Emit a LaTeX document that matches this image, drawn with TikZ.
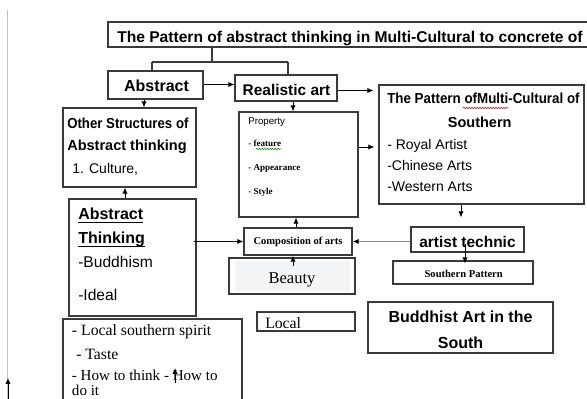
\documentclass[tikz,border=0pt]{standalone}
\usepackage{fontspec}
\setmainfont{Liberation Serif}
\setsansfont{Liberation Sans}
\usepackage{graphicx}
\usetikzlibrary{fit,calc,arrows.meta,decorations.pathmorphing}
\definecolor{linec}{HTML}{3A3A3A}
\definecolor{grayl}{HTML}{8C8C8C}
\definecolor{marginc}{HTML}{C4C4C4}
\definecolor{beautyfill}{HTML}{F3F4F6}
\newcommand\myfs[1]{\fontsize{#1}{#1}\selectfont}
\begin{document}
\begin{tikzpicture}[x=0.75pt,y=-0.75pt,
  box/.style={draw=linec,line width=0.9pt,inner sep=0pt},
  arr/.style={draw=black,line width=0.7pt,-{Latex[length=4.5pt,width=4pt]}},
  grayarr/.style={draw=grayl,line width=1.1pt,-{Latex[length=4.5pt,width=4pt,color=black]}},
  lnk/.style={draw=linec,line width=0.8pt},
  txt/.style={inner sep=0pt,anchor=base west},
  txc/.style={inner sep=0pt,anchor=base},
  hb/.style={font=\sffamily\bfseries\myfs{11.6pt}},
  hbs/.style={font=\sffamily\bfseries\myfs{10.9pt}},
  sr/.style={font=\sffamily\myfs{10.5pt}},
  srl/.style={font=\sffamily\myfs{11.7pt}},
  se/.style={font=\rmfamily\myfs{11.8pt}},
  seb/.style={font=\rmfamily\bfseries\myfs{7.9pt}},
  wavy/.style={line width=0.4pt,decorate,decoration={snake,amplitude=0.5pt,segment length=2pt}}
]
\useasboundingbox (0,0) rectangle (587,399);
\clip (0,0) rectangle (587,399);

% left margin line
\coordinate (m1) at (7.5,10);
\coordinate (m2) at (7.5,399);
\draw[marginc,line width=0.8pt] (m1) -- (m2);
\coordinate (m3) at (8,399);
\coordinate (m4) at (8,378);
\draw[arr] (m3) -- (m4);

% title
\node[box,fit={(108,22)(640,47)}] (title) {};
\node[txt,font=\sffamily\bfseries\myfs{11.7pt}] (titlet) at (117,43) {The Pattern of abstract thinking in Multi-Cultural to concrete of};

% boxes
\node[box,fit={(108,71)(203,99)}] (abs) {};
\node[txc,font=\sffamily\bfseries\myfs{12pt}] (abst) at (156.5,91.5) {Abstract};
\node[box,fit={(235,75)(337,101)}] (real) {};
\node[txc,hb] (realt) at (286.5,96) {Realistic art};
\node[box,fit={(63,108)(196,187)}] (oth) {};
\node[box,fit={(239,112)(358,217)}] (prop) {};
\node[box,fit={(379,85)(584,204)}] (pat) {};
\node[box,fit={(69,199)(196,316)}] (at) {};
\node[box,fit={(244,228)(352,255)}] (comp) {};
\node[txc,seb] (compt) at (298,245) {Composition of arts};
\fill[beautyfill] (235,261) rectangle (350,291);
\node[box,fit={(229,258)(355,294)}] (beauty) {};
\node[txc,font=\rmfamily\myfs{12.4pt}] (beautyt) at (292,283.3) {Beauty};
\node[box,fit={(257,312)(355,331)}] (local) {};
\node[txt,se] (localt) at (265,328.3) {Local};
\node[box,fit={(411,227)(524,252)}] (art) {};
\node[txc,hb] (artt) at (467.5,247.7) {artist technic};
\node[box,fit={(393,261)(533,284)}] (sp) {};
\node[txc,seb] (spt) at (463.7,277.3) {Southern Pattern};
\node[box,fit={(368,302)(553,353)}] (bud) {};
\node[txc,font=\sffamily\bfseries\myfs{12pt}] (bud1) at (460.5,322.7) {Buddhist Art in the};
\node[txc,font=\sffamily\bfseries\myfs{12pt}] (bud2) at (460.5,348.3) {South};
\node[box,fit={(63,319)(242,420)}] (lsp) {};

% Other structures text
\node[txt,hbs] (o1) at (67,128.3) {\scalebox{0.91}[1]{Other Structures of}};
\node[txt,hbs] (o2) at (67,150.7) {Abstract thinking};
\node[txt,sr] (o3) at (72,173.3) {1. Culture,};

% Abstract thinking text
\node[txt,font=\sffamily\bfseries\myfs{12pt}] (at1) at (78,219.3) {Abstract};
\node[txt,font=\sffamily\bfseries\myfs{12pt}] (at2) at (78,243.3) {Thinking};
\draw[black,line width=0.8pt] ($(at1.base west)+(0,2.8)$) -- ($(at1.base east)+(0,2.8)$);
\draw[black,line width=0.8pt] ($(at2.base west)+(0,2.8)$) -- ($(at2.base east)+(0,2.8)$);
\node[txt,srl] (at3) at (78,267.7) {-Buddhism};
\node[txt,srl] (at4) at (78,301) {-Ideal};

% Property text
\node[txt,font=\sffamily\myfs{7.3pt}] (p1) at (248,125) {Property};
\node[txt,font=\rmfamily\bfseries\myfs{6.8pt}] (p2) at (248,146.7) {- feature};
\draw[wavy,green!55!black] ($(p2.base west)+(8,2.2)$) -- ($(p2.base east)+(0,2.2)$);
\node[txt,font=\rmfamily\bfseries\myfs{6.8pt}] (p3) at (248,170.7) {- Appearance};
\node[txt,font=\rmfamily\bfseries\myfs{6.8pt}] (p4) at (248,195) {- Style};

% Pattern text
\node[txt,hbs] (pt1) at (387,104) {\scalebox{0.92}[1]{The Pattern ofMulti-Cultural of}};
\coordinate (w1) at (463,108);
\coordinate (w2) at (508,108);
\draw[wavy,red!80!black] (w1) -- (w2);
\node[txc,hbs] (pt2) at (479.7,127.3) {Southern};
\node[txt,sr] (pt3) at (387,150) {- Royal Artist};
\node[txt,sr] (pt4) at (387,170.7) {-Chinese Arts};
\node[txt,sr] (pt5) at (387,191.7) {-Western Arts};

% Local southern spirit text
\node[txt,se] (l1) at (71.7,335.7) {- Local southern spirit};
\node[txt,se] (l2) at (76,359.3) {- Taste};
\node[txt,align=left,font=\rmfamily\fontsize{11.3pt}{11.3pt}\selectfont] (l3) at (71.7,396) {- How to think - How to\\do it};

% connectors
\coordinate (tj) at (212,62);
\coordinate (tl) at (152,62);
\coordinate (tr) at (288,62);
\draw[lnk] (title.south -| tj) -- (tj);
\draw[lnk] (tl) -- (tr);
\draw[lnk] (tl) -- (tl |- abs.north);
\draw[lnk] (tr) -- (tr |- real.north);

\draw[arr] ($(abs.east)+(0,-0.5)$) coordinate (a0) -- (a0 -| real.west);
\draw[arr] ($(real.east)+(0,2.5)$) coordinate (r1) -- ($(r1 -| pat.west)+(-5,0)$);
\draw[arr] ($(abs.south)+(-11.5,0)$) coordinate (a1) -- (a1 |- oth.north);
\draw[arr] ($(at.north)+(-7.5,0)$) coordinate (a2) -- (a2 |- oth.south);
\draw[arr] ($(comp.west -| at.east)+(-3,0)$) -- (comp.west);
\draw[arr] ($(real.south)+(7,0)$) coordinate (a3) -- (a3 |- prop.north);
\draw[arr] ($(prop.east)+(0,-17.5)$) coordinate (a4) -- ($(a4 -| pat.west)+(-4,0)$);
\draw[arr] ($(comp.north)+(-2,0)$) coordinate (a5) -- (a5 |- prop.south);
\draw[arr] ($(beauty.center)+(1,-10)$) coordinate (a6) -- (a6 |- comp.south);
\draw[arr] ($(pat.south)+(-20.5,0)$) coordinate (a7) -- ($(a7 |- art.north)+(0,-9)$);
\draw[grayarr] (art.west |- comp.east) -- (comp.east);
\draw[arr] ($(art.center)+(-2.5,5)$) coordinate (a8) -- ($(a8 |- sp.north)+(0,3)$);
\coordinate (h1) at (175,383);
\coordinate (h2) at (175,368);
\draw[arr] (h1) -- (h2);
\end{tikzpicture}
\end{document}
